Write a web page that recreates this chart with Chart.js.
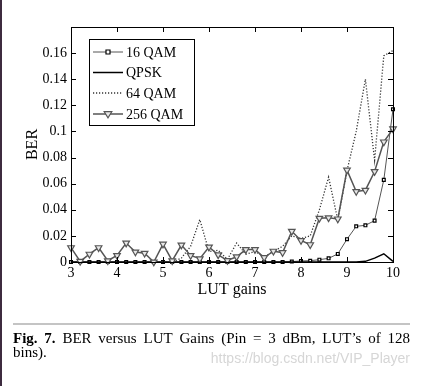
<!DOCTYPE html>
<html>
<head>
<meta charset="utf-8">
<script src="https://cdn.jsdelivr.net/npm/chart.js@4.4.0/dist/chart.umd.min.js"></script>
<style>
    html, body { margin: 0; padding: 0; background: #fff; }
</style>
</head>
<body>
<canvas id="myChart" width="423" height="386"></canvas>
<script>

var lutGains = [3, 3.2, 3.4, 3.6, 3.8, 4, 4.2, 4.4, 4.6, 4.8, 5, 5.2, 5.4, 5.6, 5.8, 6, 6.2, 6.4,
    6.6, 6.8, 7, 7.2, 7.4, 7.6, 7.8, 8, 8.2, 8.4, 8.6, 8.8, 9, 9.2, 9.4, 9.6, 9.8, 10];

var ber16qam = [0, 0, 0, 0, 0, 0, 0, 0, 0, 0, 0, 0, 0, 0, 0, 0, 0, 0,
    0, 0, 0, 0, 0, 0, 0.0003, 0.0008, 0.001, 0.0018, 0.0028, 0.0062, 0.0175, 0.0273, 0.0281, 0.0317, 0.0629, 0.117];

var berQpsk = [0, 0, 0, 0, 0, 0, 0, 0, 0, 0, 0, 0, 0, 0, 0, 0, 0, 0,
    0, 0, 0, 0, 0, 0, 0, 0, 0, 0, 0, 0, 0, 0, 0.0005, 0.003, 0.0063, 0.0005];

var ber64qam = [0, 0, 0, 0, 0, 0, 0, 0, 0, 0, 0, 0, 0.003, 0.012, 0.0325, 0.008, 0.009, 0.002,
    0.0145, 0.006, 0.008, 0.004, 0.008, 0.012, 0.02, 0.018, 0.02, 0.04, 0.065, 0.032, 0.07, 0.1, 0.14, 0.078, 0.158, 0.162];

var ber256qam = [0.011, 0.0005, 0.006, 0.011, 0.001, 0.005, 0.0145, 0.0077, 0.0067, 0, 0.0137, 0.001, 0.013, 0.005, 0.0025, 0.0115, 0.0055, 0.0012,
    0.004, 0.0095, 0.0095, 0.0034, 0.0083, 0.0072, 0.0235, 0.0165, 0.0133, 0.0335, 0.0338, 0.033, 0.0704, 0.054, 0.055, 0.0693, 0.092, 0.102];

var seriesNames = ['16 QAM', 'QPSK', '64 QAM', '256 QAM'];

var xTicks = [3, 4, 5, 6, 7, 8, 9, 10];
var yTicks = [0, 0.02, 0.04, 0.06, 0.08, 0.1, 0.12, 0.14, 0.16];

var serif = 'Liberation Serif';

function toPoints(values) {
    var pts = [];
    for (var i = 0; i != values.length; i++) {
        pts.push({ x: lutGains[i], y: values[i] });
    }
    return pts;
}

var datasets = [
    {
        label: seriesNames[0],
        data: toPoints(ber16qam),
        borderColor: '#555',
        borderWidth: 1,
        pointStyle: 'rect',
        pointRadius: 2,
        pointBorderColor: '#000',
        pointBackgroundColor: '#fff',
        pointBorderWidth: 1.2,
        order: 4
    },
    {
        label: seriesNames[1],
        data: toPoints(berQpsk),
        borderColor: '#000',
        borderWidth: 1.5,
        pointRadius: 0,
        order: 3
    },
    {
        label: seriesNames[2],
        data: toPoints(ber64qam),
        borderColor: '#333',
        borderWidth: 1.3,
        borderDash: [1.2, 1.8],
        pointRadius: 0,
        order: 2
    },
    {
        label: seriesNames[3],
        data: toPoints(ber256qam),
        borderColor: '#555',
        borderWidth: 1.5,
        pointStyle: 'triangle',
        rotation: 180,
        pointRadius: 3.8,
        pointBorderColor: '#555',
        pointBackgroundColor: '#e8e8e8',
        pointBorderWidth: 1.2,
        order: 1
    }
];

datasets.forEach(function (ds) {
    ds.tension = 0;
    ds.fill = false;
    ds.clip = false;
});

// box round the plot + ticks pointing inward (matlab style)
var framePlugin = {
    id: 'frame',
    afterDraw: function (chart) {
        var ctx = chart.ctx;
        var a = chart.chartArea;
        var xs = chart.scales.x;
        var ys = chart.scales.y;
        var len = 5;
        ctx.save();
        ctx.strokeStyle = '#000';
        ctx.lineWidth = 1;
        ctx.strokeRect(a.left + 0.5, a.top + 0.5, a.right - a.left, a.bottom - a.top);
        ctx.beginPath();
        xTicks.forEach(function (v) {
            var px = Math.round(xs.getPixelForValue(v)) + 0.5;
            ctx.moveTo(px, a.bottom);
            ctx.lineTo(px, a.bottom - len);
            ctx.moveTo(px, a.top);
            ctx.lineTo(px, a.top + len);
        });
        yTicks.forEach(function (v) {
            var py = Math.round(ys.getPixelForValue(v)) + 0.5;
            ctx.moveTo(a.left, py);
            ctx.lineTo(a.left + len, py);
            ctx.moveTo(a.right, py);
            ctx.lineTo(a.right - len, py);
        });
        ctx.stroke();
        ctx.restore();
    }
};

// legend box in the upper left corner of the plot
var legendPlugin = {
    id: 'boxLegend',
    afterDraw: function (chart) {
        var ctx = chart.ctx;
        var bx = 89, by = 39, bw = 105, bh = 86;
        var rows = [52, 72.5, 93, 114];
        ctx.save();
        ctx.fillStyle = '#fff';
        ctx.fillRect(bx, by, bw, bh);
        ctx.strokeStyle = '#000';
        ctx.lineWidth = 1;
        ctx.strokeRect(bx + 0.5, by + 0.5, bw, bh);

        chart.data.datasets.forEach(function (ds, i) {
            var y = rows[i];
            ctx.strokeStyle = ds.borderColor;
            ctx.lineWidth = ds.borderWidth;
            ctx.setLineDash(ds.borderDash || []);
            ctx.beginPath();
            ctx.moveTo(93, y);
            ctx.lineTo(123, y);
            ctx.stroke();
            ctx.setLineDash([]);

            if (ds.pointRadius > 0) {
                var r = ds.pointRadius;
                ctx.fillStyle = ds.pointBackgroundColor;
                ctx.strokeStyle = ds.pointBorderColor;
                ctx.lineWidth = ds.pointBorderWidth;
                ctx.beginPath();
                if (ds.pointStyle == 'rect') {
                    ctx.rect(108 - r, y - r, r * 2, r * 2);
                } else {
                    ctx.moveTo(108 - r, y - r * 0.6);
                    ctx.lineTo(108 + r, y - r * 0.6);
                    ctx.lineTo(108, y + r);
                    ctx.closePath();
                }
                ctx.fill();
                ctx.stroke();
            }

            ctx.fillStyle = '#000';
            ctx.font = '14px "' + serif + '"';
            ctx.textBaseline = 'middle';
            ctx.textAlign = 'left';
            ctx.fillText(ds.label, 126, y + 1);
        });
        ctx.restore();
    }
};

// paper caption under the figure, watermark and the page edge
var captionPlugin = {
    id: 'caption',
    afterDraw: function (chart) {
        var ctx = chart.ctx;
        ctx.save();

        ctx.fillStyle = '#3d2b3f';
        ctx.fillRect(0, 0, 2, 386);

        ctx.fillStyle = '#c4c4c4';
        ctx.fillRect(13, 323, 397, 2);

        var words = ['Fig.', '7.', 'BER', 'versus', 'LUT', 'Gains', '(Pin', '=', '3', 'dBm,', 'LUT\u2019s', 'of', '128'];
        var bold = '700 15px "' + serif + '"';
        var normal = '15px "' + serif + '"';
        var total = 0;
        var widths = [];
        words.forEach(function (w, i) {
            ctx.font = i < 2 ? bold : normal;
            var wd = ctx.measureText(w).width;
            widths.push(wd);
            total += wd;
        });
        var gap = (397 - total) / (words.length - 1);
        var x = 13;
        ctx.fillStyle = '#000';
        ctx.textBaseline = 'alphabetic';
        ctx.textAlign = 'left';
        words.forEach(function (w, i) {
            ctx.font = i < 2 ? bold : normal;
            ctx.fillText(w, x, 343);
            x += widths[i] + gap;
        });
        ctx.font = normal;
        ctx.fillText('bins).', 13, 357);

        ctx.fillStyle = '#d6d6d6';
        ctx.font = '14px "Liberation Sans"';
        ctx.textAlign = 'right';
        ctx.fillText('https://blog.csdn.net/VIP_Player', 410, 363);

        ctx.restore();
    }
};

var config = {
    type: 'line',
    data: { datasets: datasets },
    options: {
        responsive: false,
        animation: false,
        layout: { padding: { left: 0, top: 27, right: 30, bottom: 84 } },
        plugins: {
            legend: { display: false },
            tooltip: { enabled: false }
        },
        scales: {
            x: {
                type: 'linear',
                min: 3,
                max: 10,
                grid: { display: false, drawTicks: false },
                border: { display: false },
                afterBuildTicks: function (scale) {
                    scale.ticks = xTicks.map(function (v) { return { value: v }; });
                },
                ticks: {
                    color: '#000',
                    font: { family: serif, size: 14 },
                    padding: 3,
                    maxRotation: 0,
                    autoSkip: false
                },
                title: {
                    display: true,
                    text: 'LUT gains',
                    color: '#000',
                    font: { family: serif, size: 16 },
                    padding: { top: 0, bottom: 3 }
                },
                afterFit: function (scale) { scale.height = 40; }
            },
            y: {
                min: 0,
                max: 0.18,
                grid: { display: false, drawTicks: false },
                border: { display: false },
                afterBuildTicks: function (scale) {
                    scale.ticks = yTicks.map(function (v) { return { value: v }; });
                },
                ticks: {
                    color: '#000',
                    font: { family: serif, size: 14 },
                    padding: 4,
                    callback: function (v) { return String(Math.round(v * 100) / 100); }
                },
                title: {
                    display: true,
                    text: 'BER',
                    color: '#000',
                    font: { family: serif, size: 16 },
                    padding: { top: 23, bottom: 0 }
                },
                afterFit: function (scale) { scale.width = 71; }
            }
        }
    },
    plugins: [framePlugin, legendPlugin, captionPlugin]
};

var chart = new Chart(document.getElementById('myChart'), config);

</script>
</body>
</html>
